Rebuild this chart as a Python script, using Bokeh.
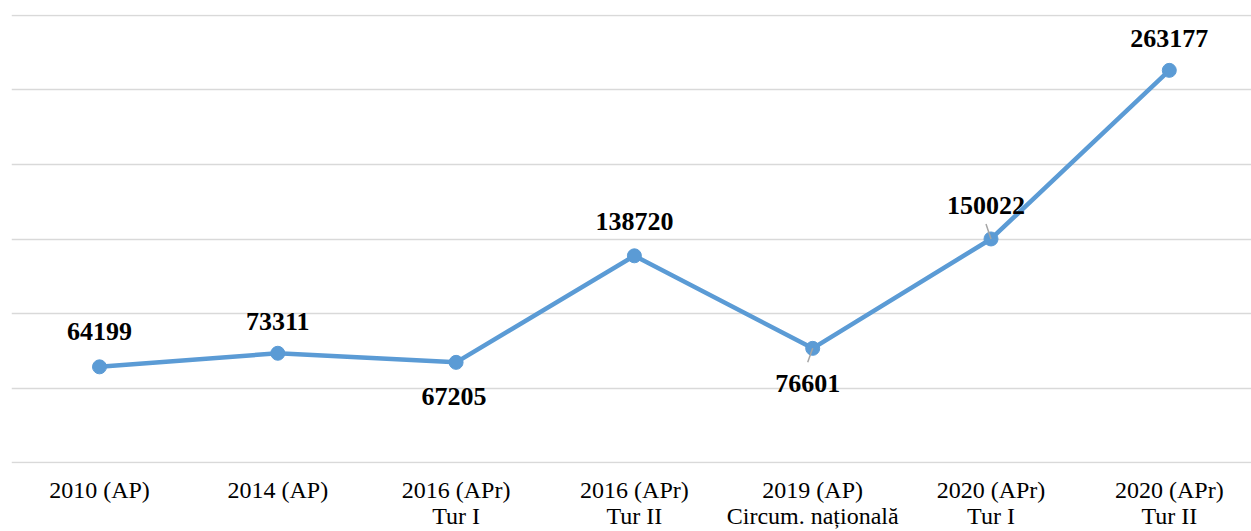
from bokeh.plotting import figure
from bokeh.models import ColumnDataSource, FixedTicker, Range1d
from bokeh.embed import file_html
from bokeh.resources import INLINE
from bokeh.core.properties import value

# ---- data ----
categories = [
    "2010 (AP)",
    "2014 (AP)",
    "2016 (APr)\nTur I",
    "2016 (APr)\nTur II",
    "2019 (AP)\nCircum. națională",
    "2020 (APr)\nTur I",
    "2020 (APr)\nTur II",
]
values = [64199, 73311, 67205, 138720, 76601, 150022, 263177]
y_ticks = [0, 50000, 100000, 150000, 200000, 250000, 300000]

# label placement (screen px offsets of label centre from each point)
label_dx = [0, 0, -2, 0, -5, -5, 0]
label_dy = [-35, -32, 34, -34, 35, -33, -32]

LINE_COLOR = "#5B9BD5"
GRID_COLOR = "#D9D9D9"
FONT = "Liberation Serif"

W, H = 1251, 531
BORDER_L, BORDER_T = 11, 14
FRAME_W, FRAME_H = W - BORDER_L, 451
X_LO, X_HI = -0.4935, 6.461
Y_PAD = 670

xs = list(range(len(categories)))
src = ColumnDataSource(dict(
    x=xs, y=values, label=[str(v) for v in values], dx=label_dx, dy=label_dy,
))

p = figure(
    width=W, height=H,
    x_range=Range1d(X_LO, X_HI),
    y_range=Range1d(y_ticks[0] - Y_PAD, y_ticks[-1] + Y_PAD),
    output_backend="svg", toolbar_location=None,
    min_border_left=BORDER_L, min_border_right=0, min_border_top=BORDER_T, min_border_bottom=0,
)
p.outline_line_color = None
p.background_fill_color = "white"
p.border_fill_color = "white"

p.line("x", "y", source=src, line_color=LINE_COLOR, line_width=4.5)
p.scatter("x", "y", source=src, size=14, fill_color=LINE_COLOR, line_color=LINE_COLOR)

# small leader lines (converted from screen px around the data points)
px_x = FRAME_W / (X_HI - X_LO)
px_y = FRAME_H / (y_ticks[-1] - y_ticks[0] + 2 * Y_PAD)
lead_idx = [4, 5]
lead_pix = [(-5, 14), (-5, -15)]
x0 = [xs[i] for i in lead_idx]
y0 = [values[i] for i in lead_idx]
x1 = [xs[i] + d[0] / px_x for i, d in zip(lead_idx, lead_pix)]
y1 = [values[i] - d[1] / px_y for i, d in zip(lead_idx, lead_pix)]
p.segment(x0, y0, x1, y1, line_color="#A6A6A6", line_width=1.5)

p.text("x", "y", text="label", source=src, x_offset="dx", y_offset="dy",
       text_align="center", text_baseline="middle",
       text_font=value(FONT), text_font_style="bold", text_font_size="26px",
       text_color="black")

p.yaxis.visible = False
p.xgrid.visible = False
p.ygrid.ticker = FixedTicker(ticks=y_ticks)
p.ygrid.grid_line_color = GRID_COLOR
p.ygrid.grid_line_width = 1.5

xa = p.xaxis[0]
xa.ticker = FixedTicker(ticks=xs)
xa.major_label_overrides = {i: c for i, c in zip(xs, categories)}
xa.axis_line_color = None
xa.major_tick_line_color = None
xa.minor_tick_line_color = None
xa.major_tick_out = 0
xa.major_tick_in = 0
xa.major_label_standoff = 13
xa.major_label_text_font = FONT
xa.major_label_text_font_size = "24px"
xa.major_label_text_color = "black"
xa.major_label_text_line_height = 1.0

open("out.html", "w").write(file_html(p, INLINE))
